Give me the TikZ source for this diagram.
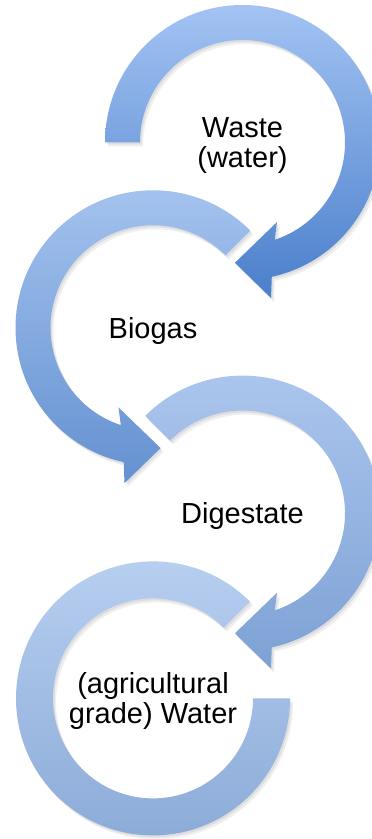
\documentclass[tikz,border=0pt]{standalone}
\usepackage{fontspec}
\setmainfont{Liberation Sans}
\definecolor{topa}{HTML}{A3C3F3}
\definecolor{bota}{HTML}{4A7FCB}
\definecolor{topb}{HTML}{A6C4EF}
\definecolor{botb}{HTML}{6491D1}
\definecolor{topc}{HTML}{ADC7EE}
\definecolor{botc}{HTML}{7DA1D5}
\definecolor{topd}{HTML}{B9D0F1}
\definecolor{botd}{HTML}{8AAAD7}

\begin{document}
\begin{tikzpicture}[x = 1pt, y = 1pt,
                    cast/.style = {preaction = {fill = black!70, opacity = 0.09, transform canvas = {shift = {(3pt,-4pt)}}},
                                   preaction = {fill = black!70, opacity = 0.1, transform canvas = {shift = {(1.5pt,-2pt)}}}},
                    lbl/.style = {align = center, inner sep = 0pt, yshift = -3pt, font = \fontsize{29}{30}\selectfont}]
                          \useasboundingbox (0,0) rectangle (372,839);
                          \clip (0,0) rectangle (372,839);
                          \coordinate (c1) at (242.5,696.5);
                          \coordinate (c2) at (153,511.2);
                          \coordinate (c3) at (242.5,325.9);
                          \coordinate (c4) at (153,140.6);
                          % first arrow, clockwise from the left
                          \shade [cast, top color = topa, bottom color = bota, shift = {(c1)}]
                            (180:137.5) arc [start angle = 180, end angle = -77.7, radius = 137.5]
                            --(-79.6:158)--(-93.6:120.5)--(-66.5:86.7)--(-71.7:102.5)
                            arc [start angle = -71.7, end angle = 180, radius = 102.5]--cycle;
                          % second arrow, anticlockwise
                          \shade [cast, top color = topb, bottom color = botb, shift = {(c2)}]
                            (45:137.5) arc [start angle = 45, end angle = 257.7, radius = 137.5]
                            --(259.6:158)--(273.6:120.5)--(246.5:86.7)--(251.7:102.5)
                            arc [start angle = 251.7, end angle = 45, radius = 102.5]--cycle;
                          % third arrow
                          \shade [cast, top color = topc, bottom color = botc, shift = {(c3)}]
                            (135:137.5) arc [start angle = 135, end angle = -77.7, radius = 137.5]
                            --(-79.6:158)--(-93.6:120.5)--(-66.5:86.7)--(-71.7:102.5)
                            arc [start angle = -71.7, end angle = 135, radius = 102.5]--cycle;
                          % last ring
                          \shade [cast, top color = topd, bottom color = botd, shift = {(c4)}]
                            (45:137) arc [start angle = 45, end angle = 360, radius = 137]
                            --(0:100) arc [start angle = 360, end angle = 45, radius = 100]--cycle;
                          \node (waste)[lbl] at (c1) {Waste\\(water)};
                          \node (biogas)[lbl] at (c2) {Biogas};
                          \node (digestate)[lbl] at (c3) {Digestate};
                          \node (water)[lbl] at (c4) {(agricultural\\grade) Water};
                        \end{tikzpicture}
\end{document}
